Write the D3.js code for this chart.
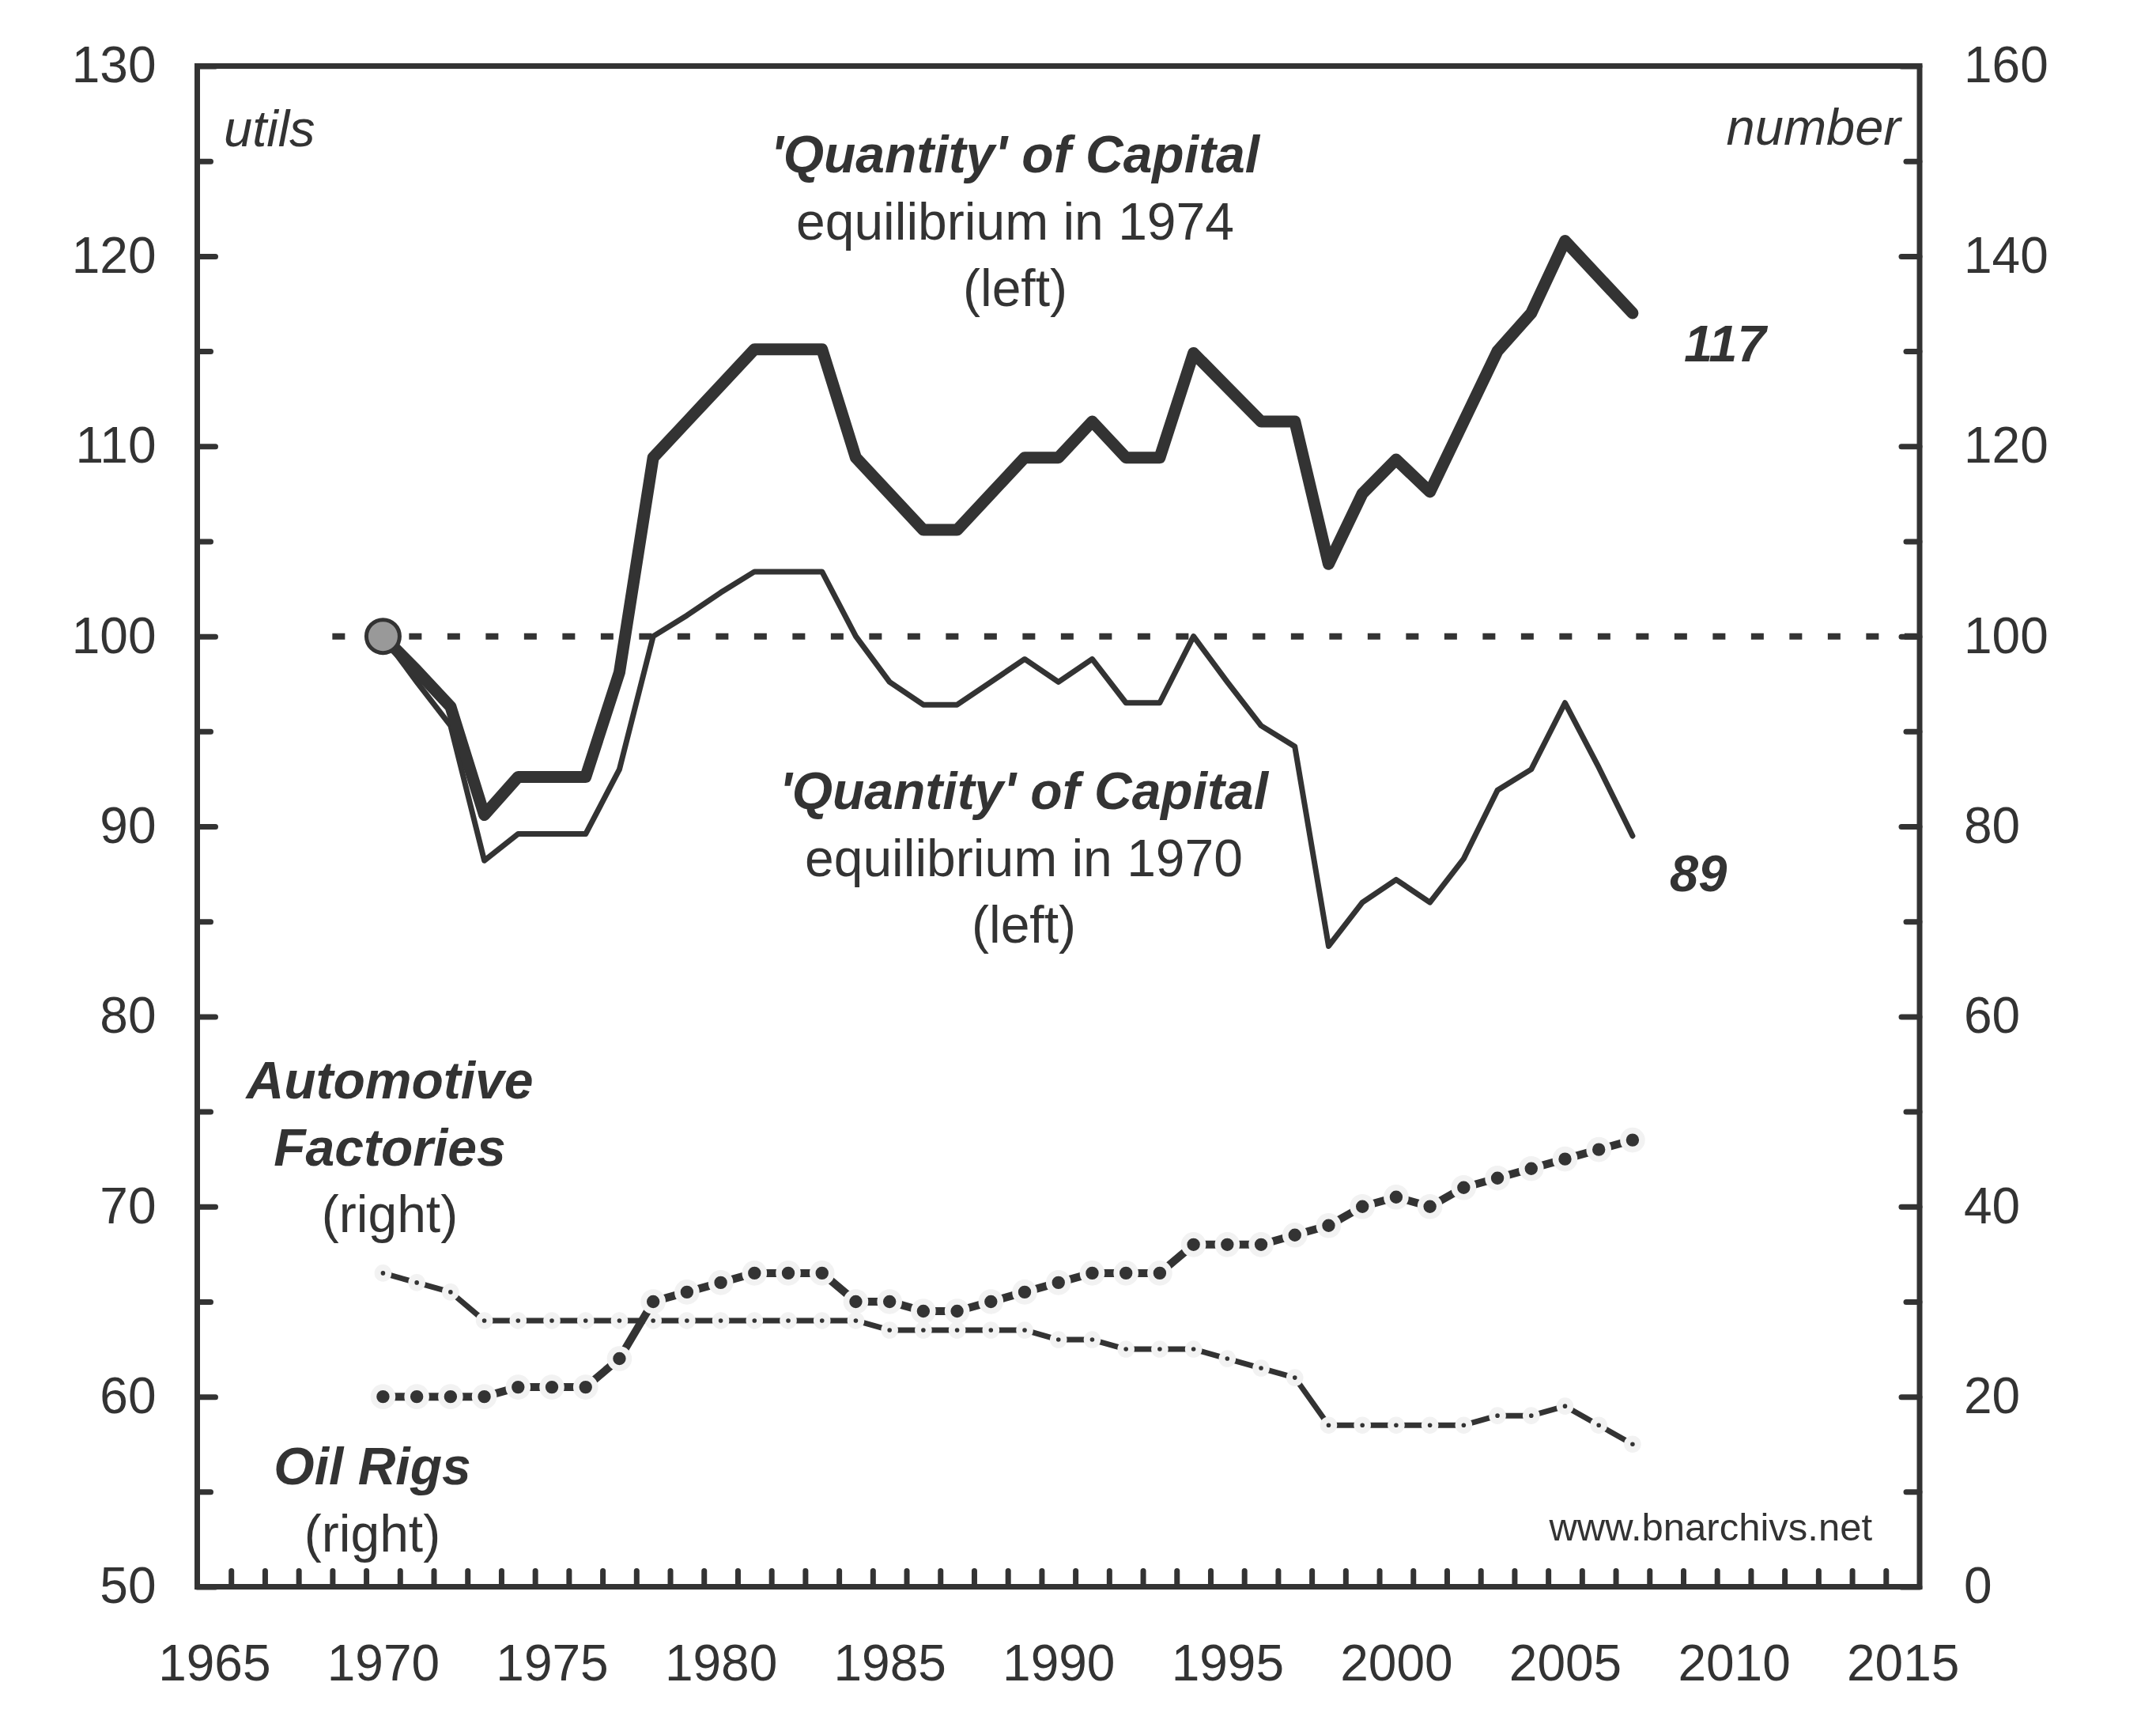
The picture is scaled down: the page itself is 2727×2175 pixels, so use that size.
<!DOCTYPE html>
<html>
<head>
<meta charset="utf-8">
<script src="https://cdn.jsdelivr.net/npm/d3@7"></script>
<style>
  body { margin: 0; background: #fff; }
  svg { display: block; }
  text { font-family: "Liberation Sans", Arial, Helvetica, sans-serif; fill: #333; }
</style>
</head>
<body>
<div class="grafico"></div>
<script>
// ---- data ----
const years = [1970, 1971, 1972, 1973, 1974, 1975, 1976, 1977, 1978, 1979,
               1980, 1981, 1982, 1983, 1984, 1985, 1986, 1987, 1988, 1989,
               1990, 1991, 1992, 1993, 1994, 1995, 1996, 1997, 1998, 1999,
               2000, 2001, 2002, 2003, 2004, 2005, 2006, 2007];

// 'Quantity' of capital, equilibrium in 1974 (left axis, utils)
const capital1974 = [100, 98.2, 96.3, 90.6, 92.6, 92.6, 92.6, 98.1, 109.4, 111.3,
                     113.2, 115.1, 115.1, 115.1, 109.4, 107.5, 105.6, 105.6, 107.5, 109.4,
                     109.4, 111.3, 109.4, 109.4, 114.9, 113.1, 111.3, 111.3, 103.8, 107.5,
                     109.3, 107.6, 111.3, 115.0, 117.0, 120.8, 118.9, 117.0];

// 'Quantity' of capital, equilibrium in 1970 (left axis, utils)
const capital1970 = [100, 97.6, 95.3, 88.2, 89.6, 89.6, 89.6, 93.0, 100, 101.1,
                     102.3, 103.4, 103.4, 103.4, 100, 97.6, 96.4, 96.4, 97.6, 98.8,
                     97.6, 98.8, 96.5, 96.5, 100, 97.6, 95.3, 94.2, 83.7, 86.0,
                     87.2, 86.0, 88.3, 91.9, 93.0, 96.5, 93.1, 89.5];

// automotive factories (right axis, number)
const autoFactories = [20, 20, 20, 20, 21, 21, 21, 24, 30, 31,
                       32, 33, 33, 33, 30, 30, 29, 29, 30, 31,
                       32, 33, 33, 33, 36, 36, 36, 37, 38, 40,
                       41, 40, 42, 43, 44, 45, 46, 47];

// oil rigs (right axis, number)
const oilRigs = [33, 32, 31, 28, 28, 28, 28, 28, 28, 28,
                 28, 28, 28, 28, 28, 27, 27, 27, 27, 27,
                 26, 26, 25, 25, 25, 24, 23, 22, 17, 17,
                 17, 17, 17, 18, 18, 19, 17, 15];

const xLabels = [1965, 1970, 1975, 1980, 1985, 1990, 1995, 2000, 2005, 2010, 2015];
const xBoundaries = [1966, 1967, 1968, 1969, 1970, 1971, 1972, 1973, 1974, 1975,
                     1976, 1977, 1978, 1979, 1980, 1981, 1982, 1983, 1984, 1985,
                     1986, 1987, 1988, 1989, 1990, 1991, 1992, 1993, 1994, 1995,
                     1996, 1997, 1998, 1999, 2000, 2001, 2002, 2003, 2004, 2005,
                     2006, 2007, 2008, 2009, 2010, 2011, 2012, 2013, 2014, 2015];
const leftMajor = [50, 60, 70, 80, 90, 100, 110, 120, 130];
const leftMinor = [55, 65, 75, 85, 95, 105, 115, 125];
const rightMajor = [0, 20, 40, 60, 80, 100, 120, 140, 160];
const rightMinor = [10, 30, 50, 70, 90, 110, 130, 150];

const baseYear = 1970, baseValue = 100;
const refLine = [1969, 2015];   // dashed 100 line span (years)

// ---- layout ----
const width = 2727, height = 2175;
const ink = "#333333";
const plot = { left: 249.5, right: 2428, top: 83.5, bottom: 2006.5 };

const svg = d3.select(".grafico")
    .append("svg")
    .attr("width", width)
    .attr("height", height);

svg.append("rect").attr("width", width).attr("height", height).attr("fill", "#fff");

// category axis: every year is a slot, ticks sit between slots
const x = d3.scaleLinear()
    .domain([1964.5, 2015.5])
    .range([plot.left, plot.right]);

const yLeft = d3.scaleLinear()
    .domain([50, 130])
    .range([plot.bottom, plot.top]);

const yRight = d3.scaleLinear()
    .domain([0, 160])
    .range([plot.bottom, plot.top]);

function styleAxis(g) {
    g.select(".domain").remove();
    g.selectAll(".tick line")
        .attr("stroke", ink)
        .attr("stroke-width", 7)
        .attr("stroke-linecap", "round");
    g.selectAll(".tick text")
        .attr("fill", ink)
        .style("font-size", "64px")
        .style("font-family", "'Liberation Sans', Arial, sans-serif");
}

// x ticks (inward, at slot boundaries)
svg.append("g")
    .attr("transform", `translate(0, ${plot.bottom})`)
    .call(d3.axisBottom(x).tickValues(xBoundaries.map(d => d - 0.5)).tickSize(-20).tickFormat(""))
    .call(styleAxis);

// x labels (slot centres)
svg.append("g")
    .attr("transform", `translate(0, ${plot.bottom})`)
    .call(d3.axisBottom(x).tickValues(xLabels).tickSize(0).tickPadding(73).tickFormat(d3.format("d")))
    .call(styleAxis)
    .call(g => g.selectAll(".tick text").attr("dy", "0.71em"));

// left axis
svg.append("g")
    .attr("transform", `translate(${plot.left}, 0)`)
    .call(d3.axisLeft(yLeft).tickValues(leftMinor).tickSize(-17).tickFormat(""))
    .call(styleAxis);
svg.append("g")
    .attr("transform", `translate(${plot.left}, 0)`)
    .call(d3.axisLeft(yLeft).tickValues(leftMajor).tickSize(-23).tickPadding(52).tickFormat(d3.format("d")))
    .call(styleAxis);

// right axis
svg.append("g")
    .attr("transform", `translate(${plot.right}, 0)`)
    .call(d3.axisRight(yRight).tickValues(rightMinor).tickSize(-17).tickFormat(""))
    .call(styleAxis);
svg.append("g")
    .attr("transform", `translate(${plot.right}, 0)`)
    .call(d3.axisRight(yRight).tickValues(rightMajor).tickSize(-23).tickPadding(56).tickFormat(d3.format("d")))
    .call(styleAxis);

// frame
svg.append("rect")
    .attr("x", plot.left)
    .attr("y", plot.top)
    .attr("width", plot.right - plot.left)
    .attr("height", plot.bottom - plot.top)
    .attr("fill", "none")
    .attr("stroke", ink)
    .attr("stroke-width", 7);

// dashed 100 reference line
svg.append("line")
    .attr("x1", x(refLine[0]) - 0.5 * (x(1) - x(0)))
    .attr("x2", x(refLine[1]) + 0.5 * (x(1) - x(0)))
    .attr("y1", yLeft(baseValue))
    .attr("y2", yLeft(baseValue))
    .attr("stroke", ink)
    .attr("stroke-width", 8)
    .attr("stroke-dasharray", "16,32.5");

const lineLeft = d3.line()
    .x(d => x(d[0]))
    .y(d => yLeft(d[1]));
const lineRight = d3.line()
    .x(d => x(d[0]))
    .y(d => yRight(d[1]));

const zip = arr => years.map((yr, i) => [yr, arr[i]]);

// oil rigs
svg.append("path")
    .datum(zip(oilRigs))
    .attr("d", lineRight)
    .attr("fill", "none")
    .attr("stroke", ink)
    .attr("stroke-width", 7)
    .attr("stroke-linejoin", "round");
svg.append("g").selectAll("circle")
    .data(zip(oilRigs))
    .join("circle")
    .attr("cx", d => x(d[0]))
    .attr("cy", d => yRight(d[1]))
    .attr("r", 6.8)
    .attr("fill", ink)
    .attr("stroke", "#f2f2f2")
    .attr("stroke-width", 8);

// automotive factories
svg.append("path")
    .datum(zip(autoFactories))
    .attr("d", lineRight)
    .attr("fill", "none")
    .attr("stroke", ink)
    .attr("stroke-width", 10)
    .attr("stroke-linejoin", "round");
svg.append("g").selectAll("circle")
    .data(zip(autoFactories))
    .join("circle")
    .attr("cx", d => x(d[0]))
    .attr("cy", d => yRight(d[1]))
    .attr("r", 12)
    .attr("fill", ink)
    .attr("stroke", "#f2f2f2")
    .attr("stroke-width", 7.6);

// capital, equilibrium 1970 (thin)
svg.append("path")
    .datum(zip(capital1970))
    .attr("d", lineLeft)
    .attr("fill", "none")
    .attr("stroke", ink)
    .attr("stroke-width", 7)
    .attr("stroke-linejoin", "round")
    .attr("stroke-linecap", "round");

// capital, equilibrium 1974 (thick)
svg.append("path")
    .datum(zip(capital1974))
    .attr("d", lineLeft)
    .attr("fill", "none")
    .attr("stroke", ink)
    .attr("stroke-width", 15)
    .attr("stroke-linejoin", "round")
    .attr("stroke-linecap", "round");

// base year marker
svg.append("circle")
    .attr("cx", x(baseYear))
    .attr("cy", yLeft(baseValue))
    .attr("r", 21)
    .attr("fill", "#999999")
    .attr("stroke", ink)
    .attr("stroke-width", 5);

// ---- annotations ----
function textBlock(cx, y0, lines) {
    const t = svg.append("g");
    lines.forEach((ln, i) => {
        t.append("text")
            .attr("x", cx)
            .attr("y", y0 + i * 84.5)
            .attr("text-anchor", "middle")
            .style("font-size", "66px")
            .style("font-weight", ln.bold ? "bold" : "normal")
            .style("font-style", ln.bold ? "italic" : "normal")
            .text(ln.text);
    });
}

textBlock(1284, 218, [
    { text: "'Quantity' of Capital", bold: true },
    { text: "equilibrium in 1974" },
    { text: "(left)" }
]);
textBlock(1295, 1023, [
    { text: "'Quantity' of Capital", bold: true },
    { text: "equilibrium in 1970" },
    { text: "(left)" }
]);
textBlock(493, 1389, [
    { text: "Automotive", bold: true },
    { text: "Factories", bold: true },
    { text: "(right)" }
]);
textBlock(471, 1877, [
    { text: "Oil Rigs", bold: true },
    { text: "(right)" }
]);

svg.append("text")
    .attr("x", 283).attr("y", 185)
    .style("font-size", "65px").style("font-style", "italic")
    .text("utils");
svg.append("text")
    .attr("x", 2404).attr("y", 183)
    .attr("text-anchor", "end")
    .style("font-size", "65px").style("font-style", "italic")
    .text("number");

// end values
svg.append("text")
    .attr("x", 2130).attr("y", 457)
    .style("font-size", "65px").style("font-weight", "bold").style("font-style", "italic")
    .text(d3.format(".0f")(capital1974[capital1974.length - 1]));
svg.append("text")
    .attr("x", 2112).attr("y", 1127)
    .style("font-size", "65px").style("font-weight", "bold").style("font-style", "italic")
    .text(d3.format(".0f")(Math.floor(capital1970[capital1970.length - 1])));

svg.append("text")
    .attr("x", 2368).attr("y", 1948)
    .attr("text-anchor", "end")
    .style("font-size", "49px")
    .text("www.bnarchivs.net");
</script>
</body>
</html>
